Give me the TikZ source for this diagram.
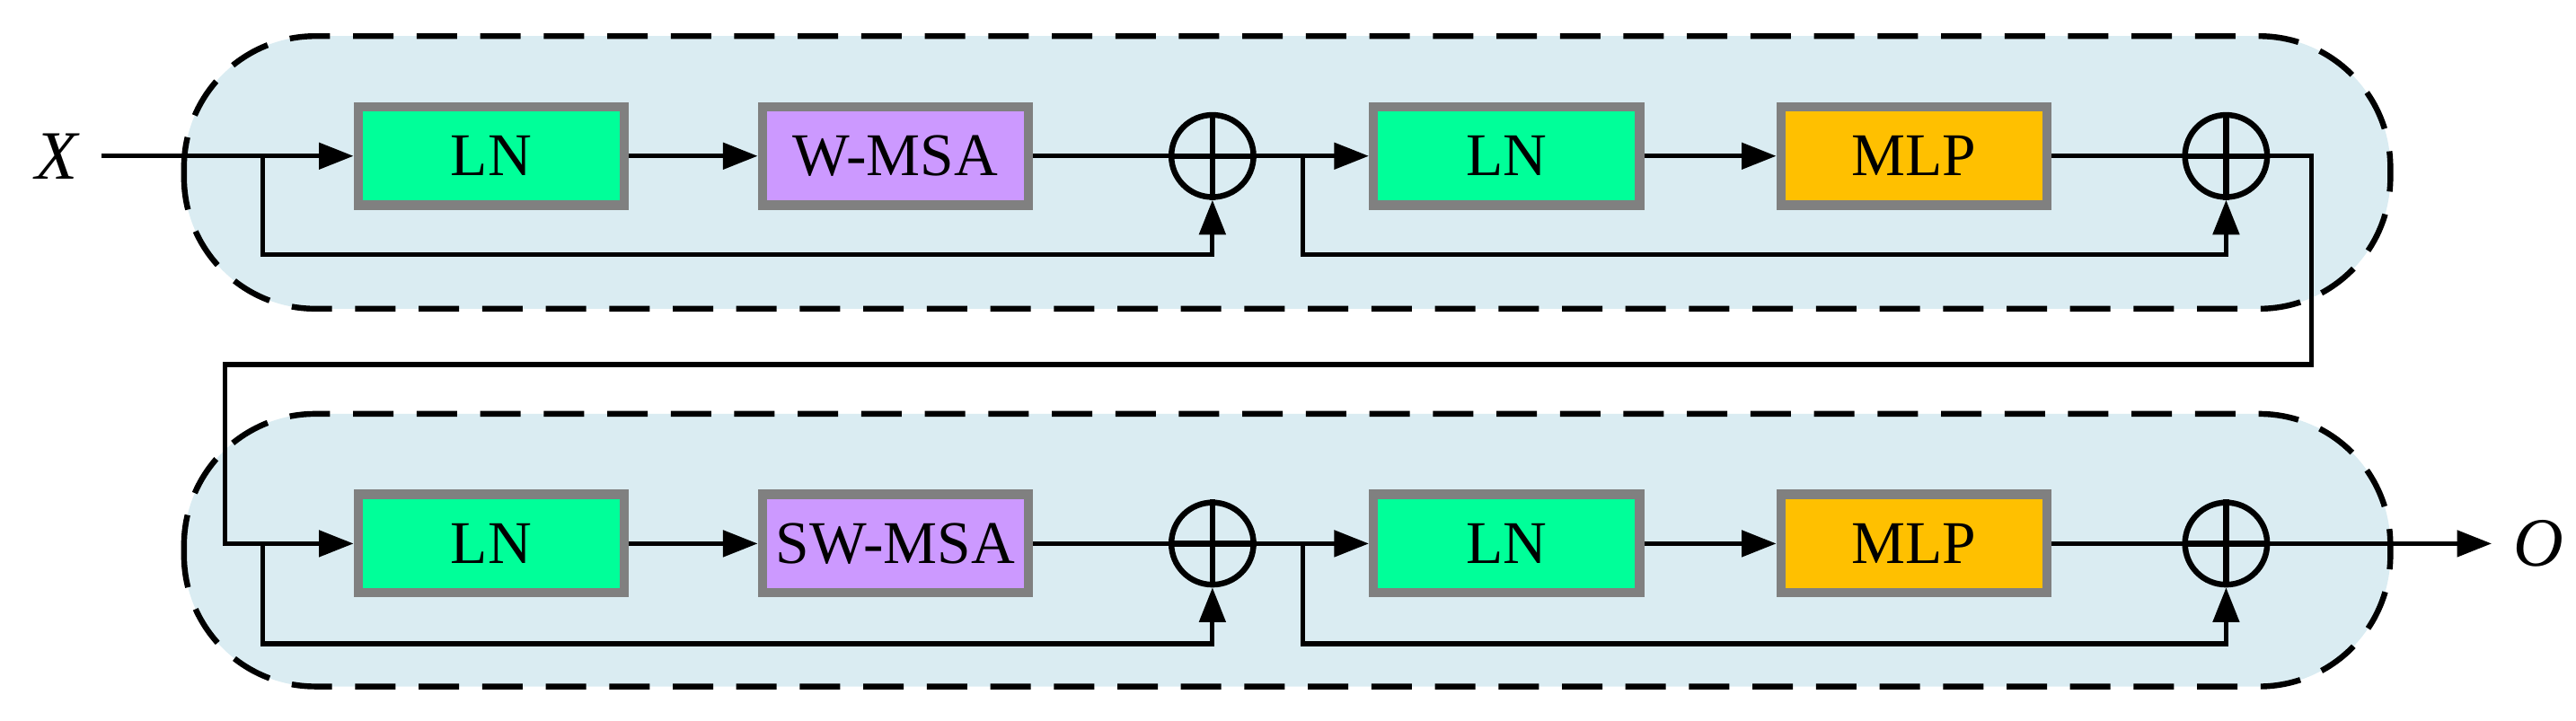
\documentclass[tikz,border=0pt]{standalone}
\usepackage{fontspec}
\setmainfont{Liberation Serif}
\usetikzlibrary{positioning,arrows.meta}
\definecolor{cont}{RGB}{218,236,242}
\definecolor{lngreen}{RGB}{0,255,153}
\definecolor{msapurple}{RGB}{204,153,255}
\definecolor{mlporange}{RGB}{255,192,0}
\begin{document}
\begin{tikzpicture}[thick,>={Triangle[length=6pt,width=4.5pt]}]
    \tikzset{bloc/.style={draw=gray, line width=1.6pt, inner xsep=1pt, minimum width=1.62cm, minimum height=0.6cm, font=\fontsize{10.5}{13}\selectfont}}
    \tikzset{somme/.style={draw, circle, line width=1pt, minimum size=0.5cm, inner sep=0pt}}
    \tikzset{cadre/.style={draw, dash pattern=on 7pt off 4pt, line width=1pt, fill=cont, rounded corners=0.8cm}}
    \useasboundingbox (0,0) rectangle (15.68,4.39);
    \draw[cadre] (1.12,2.51) rectangle (14.55,4.17);
    \draw[cadre] (1.12,0.21) rectangle (14.55,1.87);
    % premiere ligne
    \node[font=\fontsize{12}{14}\selectfont] (X) at (0.35,3.44) {\textit{X}};
    \node[bloc, fill=lngreen] (LNa) at (2.99,3.44) {LN};
    \node[bloc, fill=msapurple] (WMSA) at (5.45,3.44) {W-MSA};
    \node[somme] (Pa) at (7.38,3.44) {};
    \node[bloc, fill=lngreen] (LNb) at (9.17,3.44) {LN};
    \node[bloc, fill=mlporange] (MLPa) at (11.65,3.44) {MLP};
    \node[somme] (Pb) at (13.55,3.44) {};
    % deuxieme ligne
    \node[bloc, fill=lngreen] (LNc) at (2.99,1.08) {LN};
    \node[bloc, fill=msapurple] (SWMSA) at (5.45,1.08) {SW-MSA};
    \node[somme] (Pc) at (7.38,1.08) {};
    \node[bloc, fill=lngreen] (LNd) at (9.17,1.08) {LN};
    \node[bloc, fill=mlporange] (MLPb) at (11.65,1.08) {MLP};
    \node[somme] (Pd) at (13.55,1.08) {};
    \node[font=\fontsize{12}{14}\selectfont] (O) at (15.45,1.08) {\textit{O}};
    % croix des sommes
    \foreach \p in {Pa,Pb,Pc,Pd}
      \draw[line width=1pt] (\p.north) -- (\p.south) (\p.west) -- (\p.east);
    % connexions
    \coordinate (ea) at (1.60,3.44);
    \coordinate (eb) at (7.93,3.44);
    \coordinate (ec) at (1.60,1.08);
    \coordinate (ed) at (7.93,1.08);
    \draw[->] (X) -- (LNa);
    \draw[->] (LNa) -- (WMSA);
    \draw (WMSA) -- (Pa);
    \draw[->] (Pa) -- (LNb);
    \draw[->] (LNb) -- (MLPa);
    \draw (MLPa) -- (Pb);
    \draw[->] (ea) -- (1.60,2.84) -| (Pa.south);
    \draw[->] (eb) -- (7.93,2.84) -| (Pb.south);
    \draw[->] (Pb.east) -| (14.07,2.17) -| (1.37,1.08) -- (LNc);
    \draw[->] (LNc) -- (SWMSA);
    \draw (SWMSA) -- (Pc);
    \draw[->] (Pc) -- (LNd);
    \draw[->] (LNd) -- (MLPb);
    \draw (MLPb) -- (Pd);
    \draw[->] (Pd) -- (O);
    \draw[->] (ec) -- (1.60,0.47) -| (Pc.south);
    \draw[->] (ed) -- (7.93,0.47) -| (Pd.south);
\end{tikzpicture}
\end{document}
